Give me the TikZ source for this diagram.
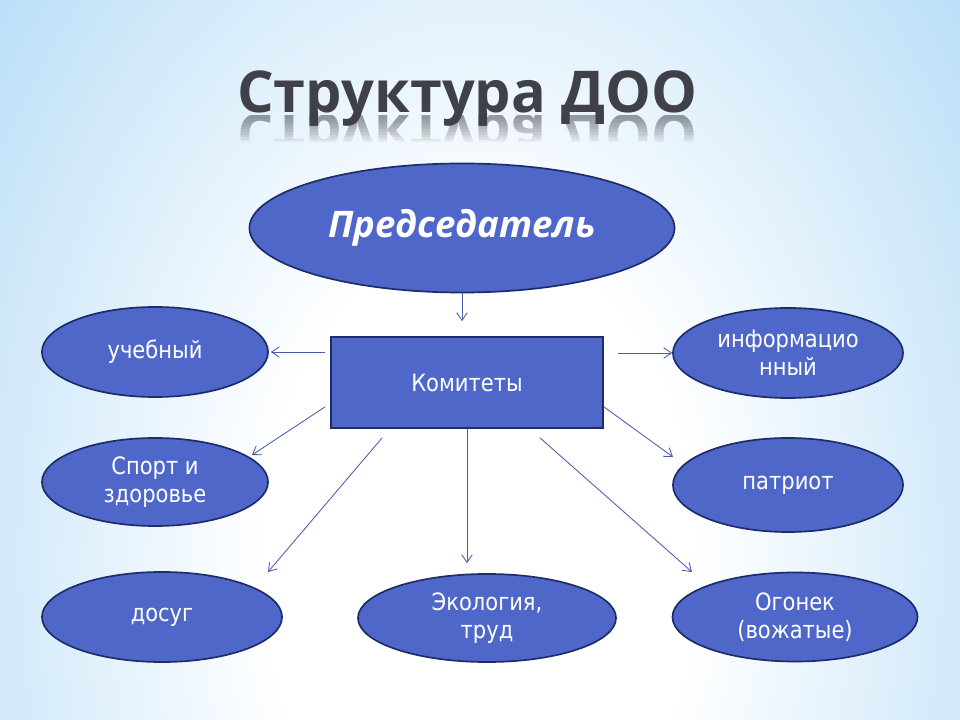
\documentclass[tikz,border=0pt]{standalone}
\usepackage{fontspec}
\setmainfont{DejaVu Sans}[FakeStretch=0.88]
\newfontfamily\titlefont{Open Sans}
\newfontfamily\predfont{Open Sans}
\usetikzlibrary{shapes.geometric,arrows.meta,calc}
\definecolor{fon}{RGB}{140,200,242}
\definecolor{uzel}{RGB}{79,103,201}
\definecolor{kraj}{RGB}{30,44,105}
\definecolor{strelka}{RGB}{75,92,170}
\definecolor{zag}{RGB}{64,64,72}
\pgfdeclareradialshading{nebo}{\pgfpointorigin}{color(0bp)=(white);color(6bp)=(white);color(25bp)=(fon);color(50bp)=(fon)}
\tikzset{
 oval/.style={ellipse,draw=kraj,line width=1.2pt,fill=uzel,text=white,align=center,inner sep=0pt,font=\fontsize{17}{20}\selectfont},
 korobka/.style={rectangle,draw=kraj,line width=1.2pt,fill=uzel,text=white,inner sep=0pt,font=\fontsize{17}{20}\selectfont},
 strl/.style={->,>={Straight Barb[length=5.5pt,width=7.5pt]},strelka,line width=0.6pt},
 zagl/.style={text=zag,font=\titlefont\bfseries\fontsize{41}{48}\selectfont,inner sep=0pt}
}
\begin{document}
\begin{tikzpicture}[x=0.025cm,y=-0.025cm]
 \useasboundingbox (0,0) rectangle (960,720);
 \begin{scope} %фон
  \clip (0,0) rectangle (960,720);
  \shade[shading=nebo] (-420,-740) rectangle (1380,1860);
 \end{scope}
 \node[zagl,anchor=base] (zag) at (467,113) {Структура ДОО}; %заголовок
 \foreach \i in {1,...,10}{ %отражение
  \begin{scope}
   \clip (230,116) rectangle (710,116+2.6*\i);
   \node[zagl,anchor=base,yscale=-1,transform shape,opacity=0.065] (otr\i) at (467,115) {Структура ДОО};
  \end{scope}
 }
 \node[oval,minimum width=10.625cm,minimum height=3.225cm,font=\predfont\bfseries\itshape\fontsize{26}{30}\selectfont] (pred) at (462,228) {Председатель};
 \node[korobka,minimum width=6.8cm,minimum height=2.275cm] (kom) at (467,382.5) {Комитеты};
 \node[oval,minimum width=5.65cm,minimum height=2.25cm] (uch) at (155,352) {учебный};
 \node[oval,minimum width=5.75cm,minimum height=2.25cm] (inf) at (788,353) {информацио\\нный};
 \node[oval,minimum width=5.65cm,minimum height=2.2cm] (sport) at (155,482) {Спорт и\\здоровье};
 \node[oval,minimum width=5.75cm,minimum height=2.35cm] (patr) at (788,485) {патриот};
 \node[oval,minimum width=6cm,minimum height=2.25cm] (dosug) at (162,617) {досуг};
 \node[oval,minimum width=6.45cm,minimum height=2.2cm] (eco) at (487,618) {Экология,\\труд};
 \node[oval,minimum width=6.125cm,minimum height=2.225cm] (ogon) at (795,617) {Огонек\\(вожатые)};
 \draw[strl,shorten >=0.375cm] (pred.south) -- (pred.south |- kom.north);
 \draw[strl,shorten >=0.05cm] ($(kom.west |- uch.east)+(-5,0)$) -- (uch.east);
 \draw[strl] ($(kom.east |- inf.west)+(14,0)$) -- (inf.west);
 \draw[strl] ($(kom.south west)+(-5,-22)$) -- ($(sport)+(97,-27)$);
 \draw[strl] ($(kom.south west)+(52,9)$) -- ($(dosug)+(106,-45)$);
 \draw[strl,shorten >=0.25cm] (kom.south) -- (kom.south |- eco.north);
 \draw[strl] ($(kom.south east)+(0,-22)$) -- ($(patr)+(-115,-28)$);
 \draw[strl] ($(kom.south)+(73,9)$) -- ($(ogon)+(-103,-45)$);
\end{tikzpicture}
\end{document}
